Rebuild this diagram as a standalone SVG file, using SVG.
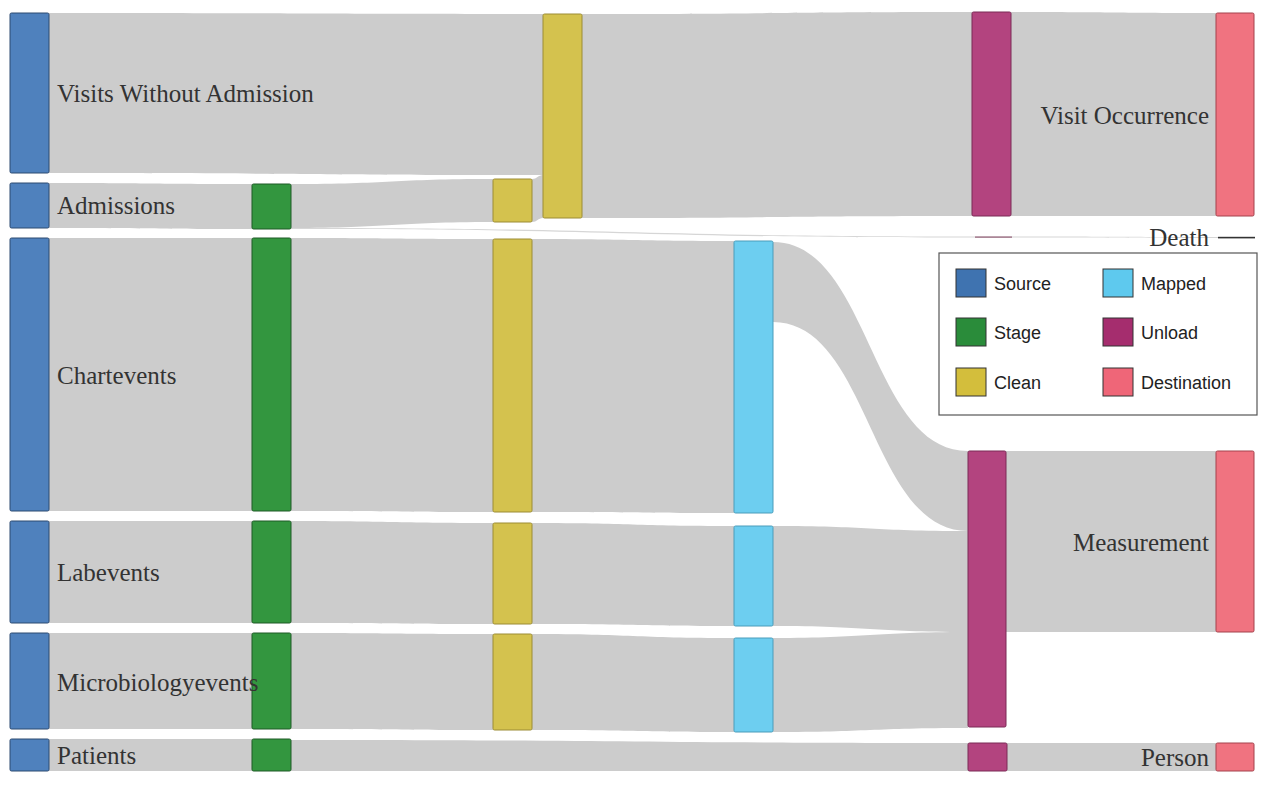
<svg xmlns="http://www.w3.org/2000/svg" width="1280" height="791" viewBox="0 0 1280 791">
<style>
.link{fill:#cccccc;stroke:none}
.thin{fill:#d6d6d6;stroke:none}
.node{stroke-width:1}
.src{fill:#4f81bd;stroke:#2c4a70}
.stg{fill:#33963f;stroke:#1f5a27}
.cln{fill:#d4c24e;stroke:#9c8c34}
.map{fill:#6dcef0;stroke:#4a9cba}
.unl{fill:#b3447f;stroke:#7a2a56}
.dst{fill:#f07380;stroke:#a4434d}
.lbl{font-family:"Liberation Serif","Times New Roman",serif;font-size:25px;fill:#333333}
.end{text-anchor:end}
.leg{font-family:"Liberation Sans",Arial,sans-serif;font-size:18px;fill:#222222}
</style>
<rect width="1280" height="791" fill="#ffffff"/>
<g id="links">
<path class="link" d="M49 13 C296 13,296 14,543 14 L543 175 C296 175,296 173,49 173 Z"/>
<path class="link" d="M49 183 C150 183,150 184,252 184 L252 229 C150 229,150 228,49 228 Z"/>
<path class="link" d="M291 184 C392 184,392 179,493 179 L493 222 C392 222,392 228,291 228 Z"/>
<path class="thin" d="M291 228 C633 228,633 236.5,975 236.5 L975 237.6 C633 237.6,633 229.1,291 229.1 Z"/>
<path class="link" d="M532 179 C537 179,538 175,543 175 L543 218 C538 218,537 222,532 222 Z"/>
<path class="link" d="M582 14 C777 14,777 12,972 12 L972 216 C777 216,777 218,582 218 Z"/>
<path class="link" d="M1011 12 C1113 12,1113 13,1216 13 L1216 216 C1113 216,1113 216,1011 216 Z"/>
<path class="thin" d="M1012 236.5 C1115 236.5,1115 237,1218 237 L1218 238 C1115 238,1115 237.6,1012 237.6 Z"/>
<path class="link" d="M49 238 C150 238,150 238,252 238 L252 511 C150 511,150 511,49 511 Z"/>
<path class="link" d="M291 238 C392 238,392 239,493 239 L493 512 C392 512,392 511,291 511 Z"/>
<path class="link" d="M532 239 C633 239,633 241,734 241 L734 513 C633 513,633 512,532 512 Z"/>
<path class="link" d="M773 242 C870 242,870 451,968 451 L968 531 C870 531,870 322,773 322 Z"/>
<path class="link" d="M49 521 C150 521,150 521,252 521 L252 623 C150 623,150 623,49 623 Z"/>
<path class="link" d="M291 521 C392 521,392 523,493 523 L493 624 C392 624,392 623,291 623 Z"/>
<path class="link" d="M532 523 C633 523,633 526,734 526 L734 626 C633 626,633 624,532 624 Z"/>
<path class="link" d="M773 526 C870 526,870 531,968 531 L968 632 C870 632,870 626,773 626 Z"/>
<path class="link" d="M49 633 C150 633,150 633,252 633 L252 729 C150 729,150 729,49 729 Z"/>
<path class="link" d="M291 633 C392 633,392 634,493 634 L493 730 C392 730,392 729,291 729 Z"/>
<path class="link" d="M532 634 C633 634,633 638,734 638 L734 732 C633 732,633 730,532 730 Z"/>
<path class="link" d="M773 638 C870 638,870 632,968 632 L968 728 C870 728,870 732,773 732 Z"/>
<path class="link" d="M1006 451 C1111 451,1111 451,1216 451 L1216 632 C1111 632,1111 632,1006 632 Z"/>
<path class="link" d="M49 739 C150 739,150 739,252 739 L252 771 C150 771,150 771,49 771 Z"/>
<path class="link" d="M291 740 C630 740,630 743,968 743 L968 771 C630 771,630 771,291 771 Z"/>
<path class="link" d="M1007 743 C1111 743,1111 743,1216 743 L1216 771 C1111 771,1111 771,1007 771 Z"/>
</g>
<g id="node-visits-source"><rect class="node src" x="10" y="13" width="39" height="160" rx="1.5"/><text class="lbl" x="57" y="102">Visits Without Admission</text></g>
<g id="node-admissions-source"><rect class="node src" x="10" y="183" width="39" height="45" rx="1.5"/><text class="lbl" x="57" y="214">Admissions</text></g>
<g id="node-chartevents-source"><rect class="node src" x="10" y="238" width="39" height="273" rx="1.5"/><text class="lbl" x="57" y="384">Chartevents</text></g>
<g id="node-labevents-source"><rect class="node src" x="10" y="521" width="39" height="102" rx="1.5"/><text class="lbl" x="57" y="581">Labevents</text></g>
<g id="node-micro-source"><rect class="node src" x="10" y="633" width="39" height="96" rx="1.5"/></g>
<g id="node-patients-source"><rect class="node src" x="10" y="739" width="39" height="32" rx="1.5"/><text class="lbl" x="57" y="764">Patients</text></g>
<g id="node-admissions-stage"><rect class="node stg" x="252" y="184" width="39" height="45" rx="1.5"/></g>
<g id="node-chartevents-stage"><rect class="node stg" x="252" y="238" width="39" height="273" rx="1.5"/></g>
<g id="node-labevents-stage"><rect class="node stg" x="252" y="521" width="39" height="102" rx="1.5"/></g>
<g id="node-micro-stage"><rect class="node stg" x="252" y="633" width="39" height="96" rx="1.5"/></g>
<g id="node-patients-stage"><rect class="node stg" x="252" y="739" width="39" height="32" rx="1.5"/></g>
<g id="node-micro-label"><text class="lbl" x="57" y="690.5">Microbiologyevents</text></g>
<g id="node-admissions-clean"><rect class="node cln" x="493" y="179" width="39" height="43" rx="1.5"/></g>
<g id="node-visits-clean"><rect class="node cln" x="543" y="14" width="39" height="204" rx="1.5"/></g>
<g id="node-chartevents-clean"><rect class="node cln" x="493" y="239" width="39" height="273" rx="1.5"/></g>
<g id="node-labevents-clean"><rect class="node cln" x="493" y="523" width="39" height="101" rx="1.5"/></g>
<g id="node-micro-clean"><rect class="node cln" x="493" y="634" width="39" height="96" rx="1.5"/></g>
<g id="node-chartevents-mapped"><rect class="node map" x="734" y="241" width="39" height="272" rx="1.5"/></g>
<g id="node-labevents-mapped"><rect class="node map" x="734" y="526" width="39" height="100" rx="1.5"/></g>
<g id="node-micro-mapped"><rect class="node map" x="734" y="638" width="39" height="94" rx="1.5"/></g>
<g id="node-visit-unload"><rect class="node unl" x="972" y="12" width="39" height="204" rx="1.5"/></g>
<g id="node-death-unload"><rect x="975" y="236.3" width="37" height="1.6" fill="#a27a8c"/></g>
<g id="node-measurement-unload"><rect class="node unl" x="968" y="451" width="38" height="276" rx="1.5"/></g>
<g id="node-person-unload"><rect class="node unl" x="968" y="743" width="39" height="28" rx="1.5"/></g>
<g id="node-visit-occurrence"><rect class="node dst" x="1216" y="13" width="38" height="203" rx="1.5"/><text class="lbl end" x="1209" y="124">Visit Occurrence</text></g>
<g id="node-death"><rect x="1218" y="236.8" width="37" height="1.6" fill="#333333"/><text class="lbl end" x="1209" y="246">Death</text></g>
<g id="node-measurement"><rect class="node dst" x="1216" y="451" width="38" height="181" rx="1.5"/><text class="lbl end" x="1209" y="551">Measurement</text></g>
<g id="node-person"><rect class="node dst" x="1216" y="743" width="38" height="28" rx="1.5"/><text class="lbl end" x="1209" y="766">Person</text></g>
<g id="legend">
<rect x="939" y="253" width="318" height="162" fill="#ffffff" stroke="#555555" stroke-width="1.2"/>
<rect x="956" y="269" width="30" height="28" fill="#3f73b0" stroke="#333333"/>
<text class="leg" x="994" y="290">Source</text>
<rect x="956" y="318" width="30" height="28" fill="#2a8c3a" stroke="#333333"/>
<text class="leg" x="994" y="339">Stage</text>
<rect x="956" y="368" width="30" height="28" fill="#d3be3c" stroke="#333333"/>
<text class="leg" x="994" y="389">Clean</text>
<rect x="1103" y="269" width="30" height="28" fill="#5ec9ee" stroke="#333333"/>
<text class="leg" x="1141" y="290">Mapped</text>
<rect x="1103" y="318" width="30" height="28" fill="#a52d6e" stroke="#333333"/>
<text class="leg" x="1141" y="339">Unload</text>
<rect x="1103" y="368" width="30" height="28" fill="#ef6678" stroke="#333333"/>
<text class="leg" x="1141" y="389">Destination</text>
</g>
</svg>
